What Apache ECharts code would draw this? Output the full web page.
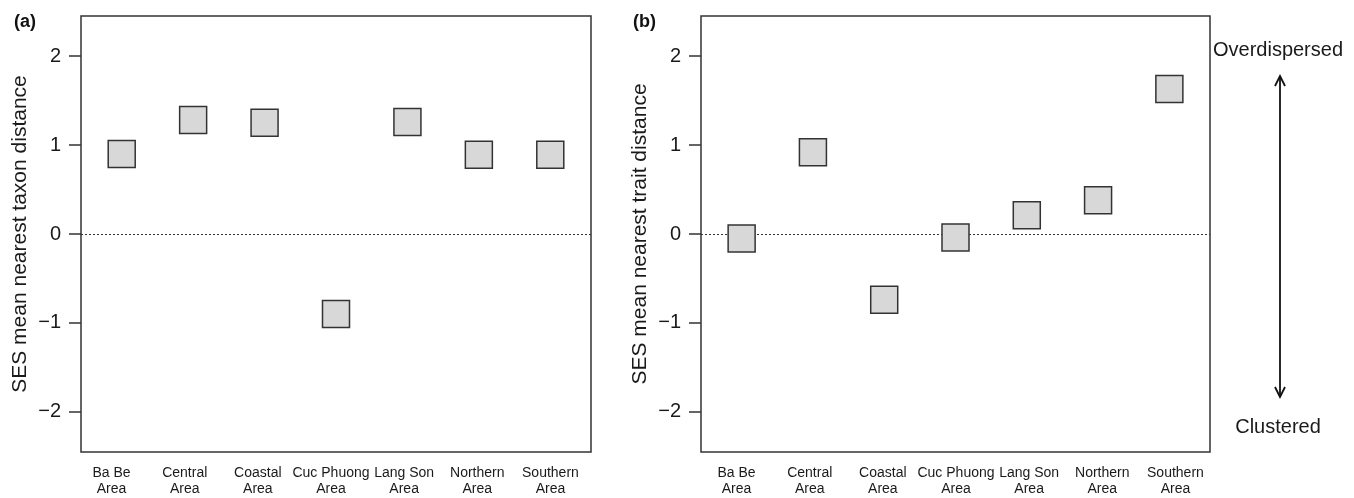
<!DOCTYPE html>
<html>
<head>
<meta charset="utf-8">
<title>SES mean nearest taxon / trait distance</title>
<script src="https://cdn.jsdelivr.net/npm/echarts@6/dist/echarts.min.js"></script>
<style>
	html, body { margin: 0; padding: 0; background: #fff; }
	#main { width: 1354px; height: 498px; }
</style>
</head>
<body>
<div id="main"></div>
<script>
	// 数据
	var areas = ['Ba Be Area', 'Central Area', 'Coastal Area', 'Cuc Phuong Area', 'Lang Son Area', 'Northern Area', 'Southern Area'];
	var sesTaxon = [0.90, 1.28, 1.25, -0.90, 1.26, 0.89, 0.89];
	var sesTrait = [-0.05, 0.92, -0.74, -0.04, 0.21, 0.38, 1.63];
	var yTicks = [-2, -1, 0, 1, 2];

	var FONT = '"Liberation Sans", Arial, Helvetica, sans-serif';
	var INK = '#1a1a1a';

	var myChart = echarts.init(document.getElementById('main'));

	function toPoints(values) {
		return areas.map(function(a, i) {
			return [i + 1, values[i]];
		});
	}

	function plotX(idx) {
		return { type: 'value', gridIndex: idx, min: 0.43, max: 7.57, show: false };
	}

	// 只用来放分类标签的坐标轴
	function labelX(idx) {
		return {
			type: 'category',
			gridIndex: idx,
			data: areas,
			axisLine: { show: false },
			axisTick: { show: false },
			axisLabel: {
				interval: 0,
				margin: 13,
				fontFamily: FONT,
				fontSize: 14,
				lineHeight: 16,
				color: INK,
				formatter: function(v) {
					return v.replace(' Area', '\nArea');
				}
			}
		};
	}

	function plotY(idx, title) {
		return {
			type: 'value',
			gridIndex: idx,
			min: -2.45,
			max: 2.45,
			axisLine: { show: false },
			splitLine: { show: false },
			axisTick: {
				show: true,
				length: 12,
				customValues: yTicks,
				lineStyle: { color: '#333', width: 1.5 }
			},
			axisLabel: {
				customValues: yTicks,
				margin: 20,
				fontFamily: FONT,
				fontSize: 20,
				color: INK,
				formatter: function(v) {
					return String(v).replace('-', '\u2212');
				}
			},
			name: title,
			nameLocation: 'middle',
			nameGap: 50,
			nameTextStyle: { fontFamily: FONT, fontSize: 21, color: INK }
		};
	}

	function squares(idx, values) {
		return {
			type: 'scatter',
			xAxisIndex: idx,
			yAxisIndex: idx,
			z: 3,
			symbol: 'rect',
			symbolSize: 27,
			itemStyle: { color: '#d8d8d8', borderColor: '#333', borderWidth: 1.5, opacity: 1 },
			emphasis: { disabled: true },
			data: toPoints(values),
			markLine: {
				silent: true,
				z: 1,
				symbol: ['none', 'none'],
				label: { show: false },
				lineStyle: { color: '#333', width: 1.2, type: [2, 2] },
				data: [{ yAxis: 0 }]
			}
		};
	}

	var boxGrid = { show: true, borderColor: '#333', borderWidth: 1.5, top: 16, height: 436 };

	var option = {
		animation: false,
		backgroundColor: '#fff',
		textStyle: { fontFamily: FONT },
		grid: [
			Object.assign({ left: 81, width: 510 }, boxGrid),
			Object.assign({ left: 701, width: 509 }, boxGrid),
			{ left: 75, width: 512, top: 16, height: 436 },
			{ left: 700, width: 512, top: 16, height: 436 }
		],
		xAxis: [plotX(0), plotX(1), labelX(2), labelX(3)],
		yAxis: [
			plotY(0, 'SES mean nearest taxon distance'),
			plotY(1, 'SES mean nearest trait distance'),
			{ type: 'value', gridIndex: 2, show: false },
			{ type: 'value', gridIndex: 3, show: false }
		],
		series: [squares(0, sesTaxon), squares(1, sesTrait)],
		graphic: [
			{ type: 'text', left: 14, top: 13, style: { text: '(a)', font: 'bold 18px ' + FONT, fill: '#111' } },
			{ type: 'text', left: 633, top: 13, style: { text: '(b)', font: 'bold 18px ' + FONT, fill: '#111' } },
			{ type: 'text', x: 1278, y: 50, style: { text: 'Overdispersed', font: '20px ' + FONT, fill: INK, align: 'center', verticalAlign: 'middle' } },
			{ type: 'text', x: 1278, y: 427, style: { text: 'Clustered', font: '20px ' + FONT, fill: INK, align: 'center', verticalAlign: 'middle' } },
			{ type: 'line', shape: { x1: 1280, y1: 76, x2: 1280, y2: 397 }, style: { stroke: '#111', lineWidth: 1.8 } },
			{ type: 'polyline', shape: { points: [[1275, 86], [1280, 76], [1285, 86]] }, style: { stroke: '#111', lineWidth: 1.8, fill: null } },
			{ type: 'polyline', shape: { points: [[1275, 387], [1280, 397], [1285, 387]] }, style: { stroke: '#111', lineWidth: 1.8, fill: null } }
		]
	};

	myChart.setOption(option);
</script>
</body>
</html>
